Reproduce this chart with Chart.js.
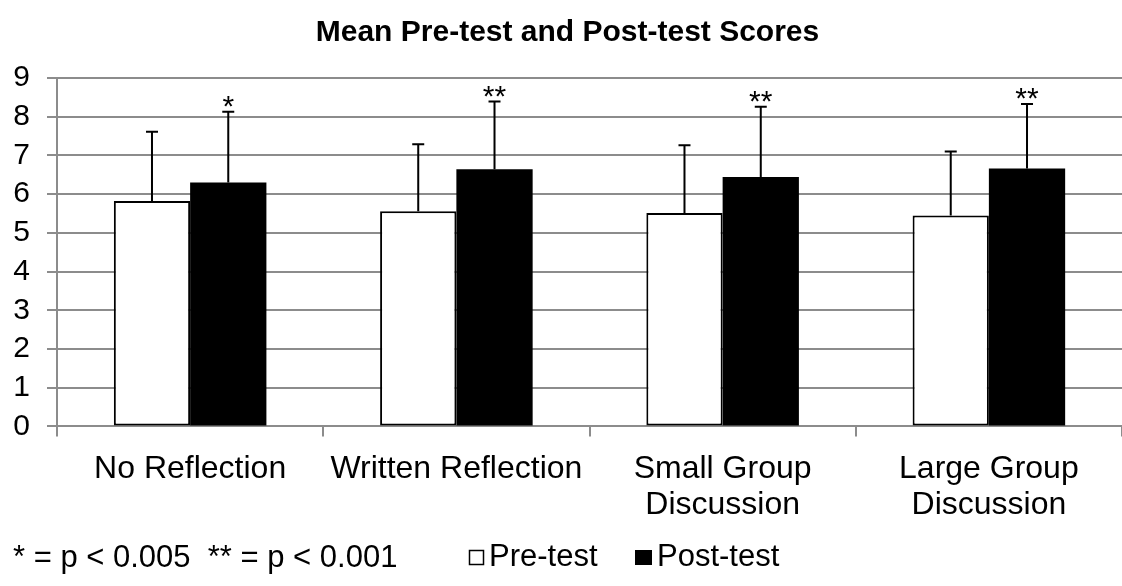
<!DOCTYPE html>
<html>
<head>
<meta charset="utf-8">
<title>Mean Pre-test and Post-test Scores</title>
<script src="https://cdn.jsdelivr.net/npm/chart.js@4"></script>
<style>
    html, body { margin: 0; padding: 0; background: #fff; }
    #wrap { width: 1122px; height: 586px; position: relative; }
</style>
</head>
<body>
<div id="wrap"><canvas id="scoreChart"></canvas></div>
<script>
// chart data
const categories = ['No Reflection', 'Written Reflection', ['Small Group', 'Discussion'], ['Large Group', 'Discussion']];
const preMeans = [5.82, 5.56, 5.51, 5.45];
const postMeans = [6.30, 6.64, 6.44, 6.66];
const preSD = [1.79, 1.73, 1.75, 1.65];
const postSD = [1.83, 1.75, 1.82, 1.67];
const postMarks = ['*', '**', '**', '**'];
const yTicks = [0, 1, 2, 3, 4, 5, 6, 7, 8, 9];
const footnote = '* = p < 0.005  ** = p < 0.001';

const FONT = "'Liberation Sans', Arial, sans-serif";
const GRID = '#8c8c8c';

Chart.defaults.font.family = FONT;
Chart.defaults.color = '#000';

// error bars (upper half only) and significance marks
const errorBars = {
    id: 'errorBars',
    afterDatasetsDraw(chart) {
        const ctx = chart.ctx;
        const y = chart.scales.y;
        chart.data.datasets.forEach((ds, i) => {
            const meta = chart.getDatasetMeta(i);
            meta.data.forEach((bar, j) => {
                const top = y.getPixelForValue(ds.data[j] + ds.sd[j]);
                ctx.save();
                ctx.strokeStyle = '#000';
                ctx.lineWidth = 2;
                ctx.beginPath();
                ctx.moveTo(bar.x, bar.y);
                ctx.lineTo(bar.x, top);
                ctx.moveTo(bar.x - 6, top);
                ctx.lineTo(bar.x + 6, top);
                ctx.stroke();
                if (ds.marks) {
                    ctx.fillStyle = '#000';
                    ctx.font = '30px ' + FONT;
                    ctx.textAlign = 'center';
                    ctx.textBaseline = 'alphabetic';
                    ctx.fillText(ds.marks[j], bar.x, top + 4);
                }
                ctx.restore();
            });
        });
    }
};

// legend and footnote under the axis
const bottomNotes = {
    id: 'bottomNotes',
    afterDraw(chart) {
        const ctx = chart.ctx;
        ctx.save();
        ctx.font = '31px ' + FONT;
        ctx.fillStyle = '#000';
        ctx.textBaseline = 'alphabetic';
        ctx.textAlign = 'left';
        ctx.fillText(footnote, 13, 567);

        const ds = chart.data.datasets;
        // Pre-test
        ctx.fillStyle = ds[0].backgroundColor;
        ctx.fillRect(469, 550, 15, 15);
        ctx.strokeStyle = '#000';
        ctx.lineWidth = 1.5;
        ctx.strokeRect(469.5, 550.5, 14, 14);
        ctx.fillStyle = '#000';
        ctx.fillText(ds[0].label, 489, 566);
        // Post-test
        ctx.fillStyle = ds[1].backgroundColor;
        ctx.fillRect(635, 550, 17, 15);
        ctx.fillStyle = '#000';
        ctx.fillText(ds[1].label, 657, 566);
        ctx.restore();
    }
};

new Chart(document.getElementById('scoreChart'), {
    type: 'bar',
    data: {
        labels: categories,
        datasets: [{
            label: 'Pre-test',
            data: preMeans,
            sd: preSD,
            backgroundColor: '#ffffff',
            borderColor: '#000000',
            borderWidth: 2,
            borderSkipped: false,
            categoryPercentage: 0.573,
            barPercentage: 1.0
        }, {
            label: 'Post-test',
            data: postMeans,
            sd: postSD,
            marks: postMarks,
            backgroundColor: '#000000',
            borderColor: '#000000',
            borderWidth: 0,
            categoryPercentage: 0.573,
            barPercentage: 1.0
        }]
    },
    options: {
        responsive: true,
        maintainAspectRatio: false,
        animation: false,
        layout: {
            padding: { left: 13, right: 0, top: 0, bottom: 48 }
        },
        plugins: {
            legend: { display: false },
            tooltip: { enabled: false },
            title: {
                display: true,
                text: 'Mean Pre-test and Post-test Scores',
                font: { size: 30, weight: 'bold' },
                padding: { top: 15, bottom: 27 }
            }
        },
        scales: {
            x: {
                afterFit(scale) {
                    scale.paddingLeft = 0;
                    scale.paddingRight = 0;
                },
                grid: {
                    display: true,
                    drawOnChartArea: false,
                    drawTicks: true,
                    tickLength: 10,
                    color: GRID,
                    lineWidth: 2
                },
                border: { color: GRID, width: 2 },
                ticks: {
                    font: { size: 32, lineHeight: 1.15 },
                    padding: 14,
                    maxRotation: 0,
                    autoSkip: false
                }
            },
            y: {
                min: 0,
                max: 9,
                afterBuildTicks(scale) {
                    scale.ticks = yTicks.map(v => ({ value: v }));
                },
                afterFit(scale) {
                    scale.width = 44;
                },
                grid: {
                    color: GRID,
                    lineWidth: 2,
                    tickLength: 10
                },
                border: { color: GRID, width: 2 },
                ticks: {
                    font: { size: 30 },
                    padding: 17,
                    autoSkip: false
                }
            }
        }
    },
    plugins: [errorBars, bottomNotes]
});
</script>
</body>
</html>
